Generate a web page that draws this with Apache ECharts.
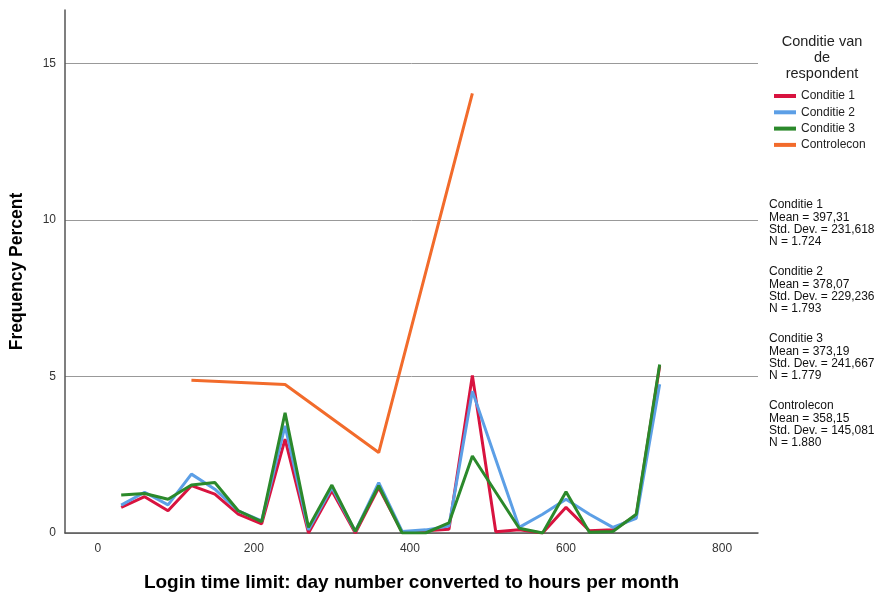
<!DOCTYPE html>
<html lang="en">
<head>
    <meta charset="UTF-8">
    <title>Login time limit</title>
    <script src="https://cdn.jsdelivr.net/npm/echarts@6/dist/echarts.min.js"></script>
    <style>
        html, body { height: 100%; margin: 0; background: #fff; }
        #main { width: 888px; height: 597px; }
    </style>
</head>
<body>
<div id="main"></div>
<script>
    // uren per maand (x waarden)
    var hours = [30, 60, 90, 120, 150, 180, 210, 240, 270, 300, 330, 360,
                 390, 420, 450, 480, 510, 540, 570, 600, 630, 660, 690, 720];
    var conditie1 = [0.82, 1.16, 0.71, 1.51, 1.24, 0.60, 0.29, 3.00, 0.00, 1.35, 0.00, 1.45,
                     0.02, 0.07, 0.12, 5.03, 0.04, 0.10, 0.00, 0.82, 0.07, 0.10, 0.55, 5.33];
    var conditie2 = [0.89, 1.30, 0.90, 1.88, 1.40, 0.71, 0.39, 3.42, 0.10, 1.45, 0.05, 1.61,
                     0.05, 0.10, 0.22, 4.53, 2.35, 0.18, 0.60, 1.08, 0.60, 0.18, 0.47, 4.75];
    var conditie3 = [1.21, 1.26, 1.08, 1.53, 1.61, 0.71, 0.36, 3.84, 0.18, 1.53, 0.05, 1.51,
                     0.00, 0.00, 0.32, 2.46, 1.30, 0.15, 0.00, 1.32, 0.02, 0.05, 0.60, 5.38];
    var controleHours = [120, 240, 360, 480];
    var controlecon = [4.88, 4.74, 2.57, 14.04];

    var seriesNames = ['Conditie 1', 'Conditie 2', 'Conditie 3', 'Controlecon'];
    var colors = ['#d8133f', '#5c9fe6', '#2b892b', '#f26b2b'];
    var xTicks = [0, 200, 400, 600, 800];

    var stats = [
        ['Conditie 1', 'Mean = 397,31', 'Std. Dev. = 231,618', 'N = 1.724'],
        ['Conditie 2', 'Mean = 378,07', 'Std. Dev. = 229,236', 'N = 1.793'],
        ['Conditie 3', 'Mean = 373,19', 'Std. Dev. = 241,667', 'N = 1.779'],
        ['Controlecon', 'Mean = 358,15', 'Std. Dev. = 145,081', 'N = 1.880']
    ];

    function pairs(xs, ys) {
        return xs.map(function (x, i) { return [x, ys[i]]; });
    }

    var font = '"Liberation Sans", Arial, sans-serif';
    var chart = echarts.init(document.getElementById('main'));

    // legenda titel en statistiek blokken
    var graphics = [{
        type: 'text',
        x: 822, y: 34,
        style: {
            text: 'Conditie van\nde\nrespondent',
            font: '14.5px ' + font,
            fill: '#222',
            align: 'center',
            verticalAlign: 'top',
            lineHeight: 15.8
        }
    }];
    stats.forEach(function (s, i) {
        graphics.push({
            type: 'text',
            x: 769, y: 199 + i * 67,
            style: {
                text: s.join('\n'),
                font: '12px ' + font,
                fill: '#111',
                verticalAlign: 'top',
                lineHeight: 12.2
            }
        });
    });

    var datasets = [pairs(hours, conditie1), pairs(hours, conditie2),
                    pairs(hours, conditie3), pairs(controleHours, controlecon)];

    var option = {
        animation: false,
        textStyle: { fontFamily: font },
        grid: { left: 65, right: 130, top: 10, bottom: 63 },
        legend: {
            orient: 'vertical',
            left: 769, top: 85,
            itemWidth: 22, itemHeight: 4, itemGap: 4.3,
            icon: 'rect',
            textStyle: { fontSize: 12, color: '#222' },
            data: seriesNames
        },
        xAxis: {
            type: 'value',
            min: -42, max: 846,
            name: 'Login time limit: day number converted to hours per month',
            nameLocation: 'middle',
            nameGap: 40,
            nameTextStyle: { fontSize: 19, fontWeight: 'bold', color: '#000' },
            axisLine: { onZero: false, lineStyle: { color: '#555', width: 1.5 } },
            axisTick: { show: false },
            axisLabel: { customValues: xTicks, color: '#333', fontSize: 12, margin: 10 },
            splitLine: { show: false }
        },
        yAxis: {
            type: 'value',
            min: 0, max: 16.7, interval: 5,
            name: 'Frequency Percent',
            nameLocation: 'middle',
            nameGap: 39,
            nameTextStyle: { fontSize: 17.5, fontWeight: 'bold', color: '#000' },
            axisLine: { show: true, onZero: false, lineStyle: { color: '#555', width: 1.5 } },
            axisTick: { show: false },
            axisLabel: {
                color: '#333', fontSize: 12, margin: 9,
                formatter: function (v) { return v % 5 === 0 ? String(v) : ''; }
            },
            splitLine: { show: true, showMaxLine: false, lineStyle: { color: '#999', width: 1 } }
        },
        graphic: graphics,
        series: datasets.map(function (d, i) {
            return {
                name: seriesNames[i],
                type: 'line',
                data: d,
                showSymbol: false,
                symbol: 'none',
                color: colors[i],
                lineStyle: { width: 3, color: colors[i] }
            };
        })
    };
    chart.setOption(option);
</script>
</body>
</html>
